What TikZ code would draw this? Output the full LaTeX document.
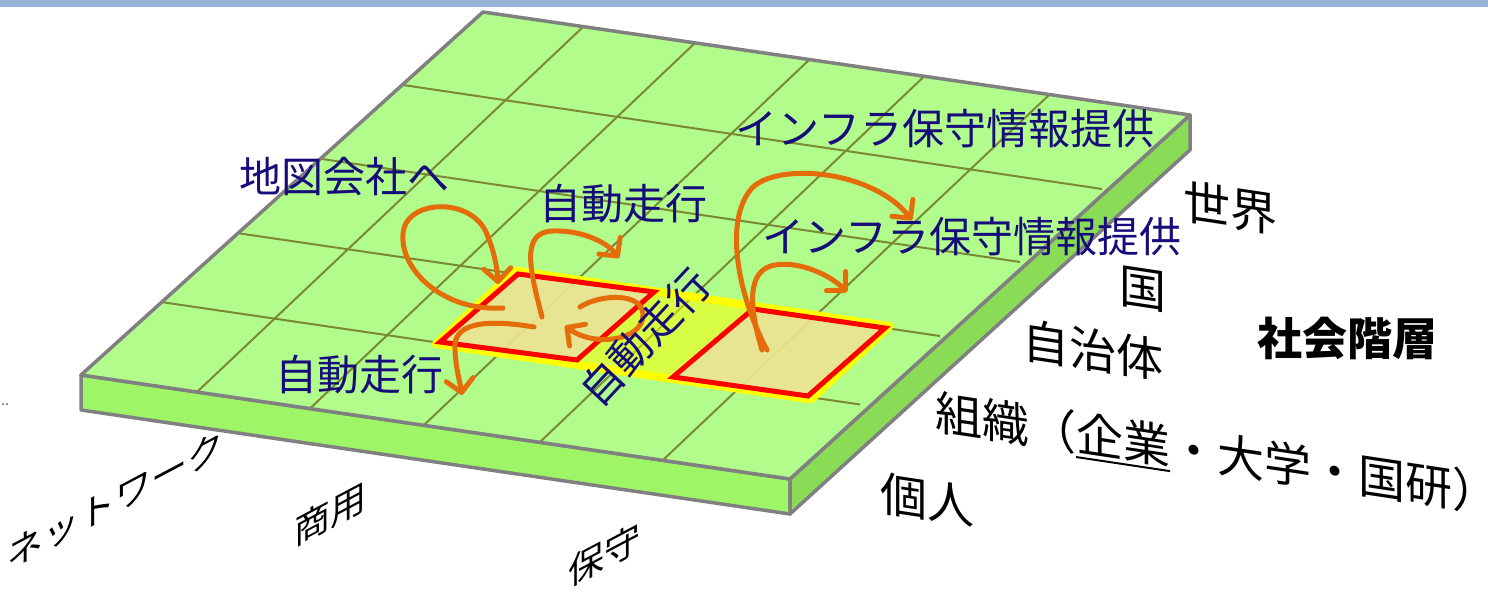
\documentclass[tikz,border=0pt]{standalone}
\usepackage{fontspec}
\setmainfont{Noto Sans CJK JP}
\usetikzlibrary{arrows.meta}
\definecolor{barblue}{RGB}{149,179,215}
\definecolor{topgreen}{RGB}{178,252,140}
\definecolor{frontgreen}{RGB}{158,246,102}
\definecolor{sidegreen}{RGB}{138,220,86}
\definecolor{edgegrey}{RGB}{128,128,128}
\definecolor{gridolive}{RGB}{122,138,52}
\definecolor{navy}{RGB}{22,12,122}
\definecolor{arroworange}{RGB}{228,108,10}
\definecolor{celltan}{RGB}{234,225,160}
\definecolor{bandyellow}{RGB}{255,255,0}
\definecolor{cellred}{RGB}{255,0,0}
\tikzset{
  slabedge/.style={draw=edgegrey, line width=3.5pt, line join=round},
  gridline/.style={draw=gridolive, line width=2pt},
  flow/.style={draw=arroworange, line width=5pt, line cap=round,
    -{Straight Barb[length=13pt,width=27pt,round]}},
  bluelabel/.style={text=navy, inner sep=0pt, font=\fontsize{42pt}{50pt}\selectfont},
  layerlabel/.style={text=black, inner sep=0pt, yslant=-0.15, font=\fontsize{47pt}{56pt}\selectfont},
  axislabel/.style={text=black, inner sep=0pt, yslant=0.53, font=\fontsize{36pt}{44pt}\selectfont},
  cellbox/.style={draw=cellred, line width=5pt, line join=miter, fill=celltan, fill opacity=0.85},
}
\begin{document}
\begin{tikzpicture}[x=1pt,y=-1pt]
\useasboundingbox (0,0) rectangle (1488,593);
\fill[barblue] (0,0) rectangle (1488,7);
% stray dots
\fill[black!70] (3,404) circle (1pt);
\fill[black!70] (7,404) circle (1pt);
% slab
\coordinate (A) at (483,12);
\coordinate (B) at (1190,115);
\coordinate (C) at (790,479);
\coordinate (D) at (81,375);
\coordinate (Bb) at (1190,150);
\coordinate (Cb) at (790,514);
\coordinate (Db) at (81,410);
\filldraw[slabedge, fill=frontgreen] (D) -- (C) -- (Cb) -- (Db) -- cycle;
\filldraw[slabedge, fill=sidegreen] (C) -- (B) -- (Bb) -- (Cb) -- cycle;
\fill[topgreen] (A) -- (B) -- (C) -- (D) -- cycle;
% grid
\draw[gridline] (403,85) -- (1102,189);
\draw[gridline] (322,159) -- (1020,262);
\draw[gridline] (240,233.5) -- (940,336);
\draw[gridline] (161,302) -- (860,404.5);
\draw[gridline] (583,27) -- (197,392);
\draw[gridline] (695,43) -- (310,408.5);
\draw[gridline] (809,60) -- (424,425);
\draw[gridline] (924,76.5) -- (540,442);
\draw[gridline] (1049,95) -- (663,460);
\draw[slabedge] (A) -- (B) -- (C) -- (D) -- cycle;
% band and cells
\filldraw[draw=bandyellow, line width=8pt, line join=round, fill=bandyellow, fill opacity=0.5]
  (515,270.5) -- (889.5,326) -- (811,399.5) -- (436,344) -- cycle;
\filldraw[cellbox] (518,274) -- (654,292) -- (577,360) -- (440,342) -- cycle;
\filldraw[cellbox] (753,309) -- (885,328) -- (808,396) -- (673,377) -- cycle;
% arrows
\draw[flow] (503,308) .. controls (440,312) and (395,265) .. (404,228)
  .. controls (412,200) and (470,198) .. (486,232)
  .. controls (493,248) and (497,265) .. (498,284);
\draw[flow] (542,317) .. controls (530,270) and (520,232) .. (553,231)
  .. controls (578,230) and (605,240) .. (619,258);
\draw[flow] (534,327) .. controls (480,318) and (452,325) .. (455,350)
  .. controls (456,370) and (460,382) .. (462,395);
\draw[flow] (580,307) .. controls (600,294) and (643,292) .. (643,315)
  .. controls (643,340) and (595,348) .. (565,326);
\draw[flow] (767,350) .. controls (740,300) and (722,222) .. (752,188)
  .. controls (778,162) and (872,170) .. (912,220);
\draw[flow] (762,350) .. controls (750,310) and (745,270) .. (775,265)
  .. controls (800,261) and (830,275) .. (847,292);
% blue labels
\node[bluelabel] (chizu) at (344,177) {地図会社へ};
\node[bluelabel] (jidou1) at (623,204) {自動走行};
\node[bluelabel] (infra1) at (945,129) {インフラ保守情報提供};
\node[bluelabel] (infra2) at (972,237) {インフラ保守情報提供};
\node[bluelabel] (jidou2) at (359,375) {自動走行};
\node[bluelabel, rotate=47] (jidou3) at (645,337) {自動走行};
% layer labels
\node[layerlabel] (sekai) at (1230,208) {世界};
\node[layerlabel] (kuni) at (1143,289) {国};
\node[layerlabel] (jichi) at (1093,350) {自治体};
\node[layerlabel, anchor=west] (soshiki) at (935,413)
  {組織（\rlap{\rule[-0.16em]{2em}{2pt}}企業・大学・国研\makebox[0.45em][l]{）}};
\node[layerlabel] (kojin) at (927,500) {個人};
\node[text=black, inner sep=0pt, font=\fontsize{45pt}{54pt}\selectfont\bfseries] (kaisou) at (1347,338) {社会階層};
% axis labels
\node[axislabel] (net) at (115,500) {ネットワーク};
\node[axislabel] (shouyou) at (330,514) {商用};
\node[axislabel] (hoshu) at (604,555) {保守};
\end{tikzpicture}
\end{document}
